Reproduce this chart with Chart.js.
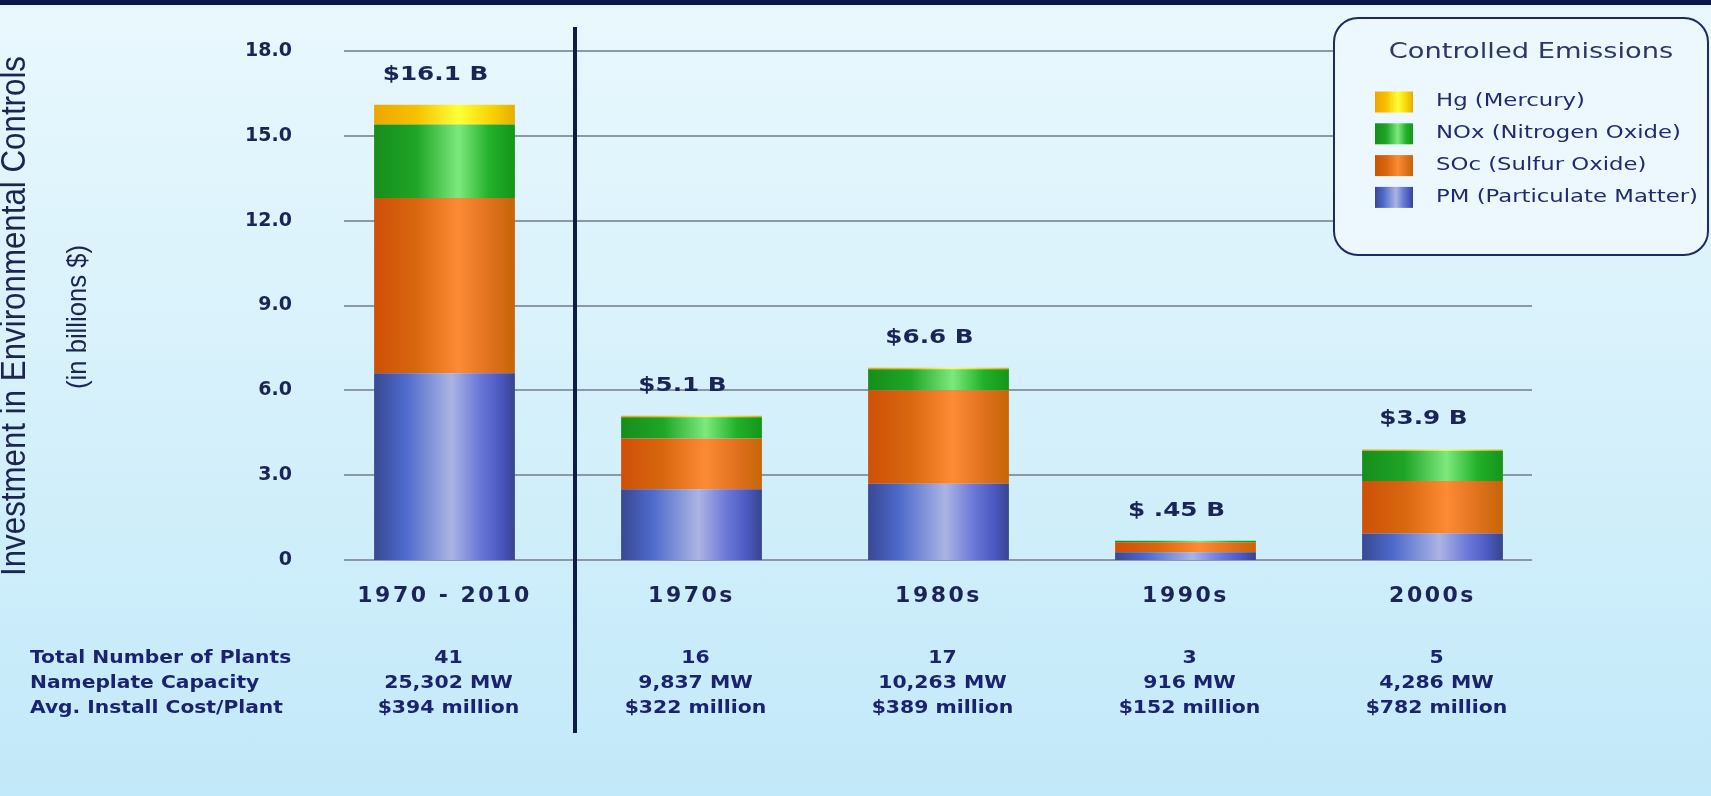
<!DOCTYPE html>
<html>
<head>
<meta charset="utf-8">
<script src="https://cdn.jsdelivr.net/npm/chart.js@4.4.1/dist/chart.umd.min.js"></script>
<style>
  html, body { margin: 0; padding: 0; }
  body {
    width: 1711px; height: 796px; overflow: hidden;
    background: linear-gradient(#e9f8fd, #c2e9f9);
  }
  #wrap { position: relative; width: 1711px; height: 796px; }
  #topband { position: absolute; left: 0; top: 0; width: 1711px; height: 5px; background: #0a174d; }
</style>
</head>
<body>
<div id="wrap">
  <canvas id="myChart" width="1711" height="796"></canvas>
  <div id="topband"></div>
</div>
<script>
// ---- data (billions $) ----
const categories = ['1970 - 2010', '1970s', '1980s', '1990s', '2000s'];
const pm  = [6.6, 2.5, 2.7, 0.27, 0.94];
const soc = [6.2, 1.8, 3.3, 0.36, 1.85];
const nox = [2.6, 0.75, 0.75, 0.05, 1.07];
const hg  = [0.7, 0.05, 0.05, 0, 0.05];
const totals = ['$16.1 B', '$5.1 B', '$6.6 B', '$ .45 B', '$3.9 B'];
const yTicks = [0, 3, 6, 9, 12, 15, 18];

// table under the chart
const rowLabels = ['Total Number of Plants', 'Nameplate Capacity', 'Avg. Install Cost/Plant'];
const plants = [41, 16, 17, 3, 5];
const capacityMW = [25302, 9837, 10263, 916, 4286];
const costMillion = [394, 322, 389, 152, 782];

// cylinder-ish shading for each series
const blueStops   = [[0,'#394893'],[0.22,'#4d6acb'],[0.55,'#abb4e3'],[0.75,'#6b78d8'],[0.9,'#4a58bf'],[1,'#37448c']];
const orangeStops = [[0,'#cf5007'],[0.3,'#d8670f'],[0.6,'#fd8b35'],[0.82,'#e0711e'],[1,'#c66506']];
const greenStops  = [[0,'#178d1b'],[0.3,'#1fa527'],[0.6,'#7de97d'],[0.82,'#22b02a'],[1,'#159519']];
const yellowStops = [[0,'#eea600'],[0.3,'#f8c000'],[0.6,'#ffff38'],[0.85,'#f6d000'],[1,'#e6ae00']];

const BAR_PCT = 0.57;
const NAVY = '#1b2456';

function barFill(stops) {
  return (c) => {
    const xs = c.chart.scales.x;
    if (!xs || c.dataIndex === undefined) return stops[2][1];
    const cx = xs.getPixelForValue(c.dataIndex);
    const w = xs.width / categories.length * BAR_PCT;
    if (!Number.isFinite(cx) || !Number.isFinite(w) || w <= 0) return stops[2][1];
    const g = c.chart.ctx.createLinearGradient(cx - w / 2, 0, cx + w / 2, 0);
    stops.forEach(s => g.addColorStop(s[0], s[1]));
    return g;
  };
}

function wideText(ctx, text, x, y, sx, align) {
  ctx.save();
  ctx.translate(x, y);
  ctx.scale(sx, 1);
  ctx.textAlign = align;
  ctx.fillText(text, 0, 0);
  ctx.restore();
}

// vertical text squeezed/stretched to a given length
function sideText(ctx, text, baseX, cy, len, font) {
  ctx.save();
  ctx.translate(baseX, cy);
  ctx.rotate(-Math.PI / 2);
  ctx.font = font;
  const w = ctx.measureText(text).width;
  ctx.scale(len / w, 1);
  ctx.textAlign = 'center';
  ctx.textBaseline = 'alphabetic';
  ctx.fillText(text, 0, 0);
  ctx.restore();
}

const decor = {
  id: 'decor',
  beforeDraw(chart) {
    chart.ctx.letterSpacing = '2.5px';   // wide look for the category labels
  },
  beforeDatasetsDraw(chart) {
    const ctx = chart.ctx, ys = chart.scales.y, a = chart.chartArea;
    ctx.letterSpacing = '0px';
    ctx.save();
    ctx.strokeStyle = '#8b99a5';
    ctx.lineWidth = 2;
    ys.ticks.forEach(t => {
      const y = Math.round(ys.getPixelForValue(t.value));
      ctx.beginPath();
      ctx.moveTo(a.left + 23, y);
      ctx.lineTo(a.right - 24, y);
      ctx.stroke();
    });
    ctx.restore();
  },
  afterDatasetsDraw(chart) {
    const ctx = chart.ctx, xs = chart.scales.x;
    ctx.letterSpacing = '0px';
    ctx.save();
    // separator between the total and the decades
    const sx = (xs.getPixelForValue(0) + xs.getPixelForValue(1)) / 2 + 7;
    ctx.strokeStyle = '#0e1a48';
    ctx.lineWidth = 4;
    ctx.beginPath();
    ctx.moveTo(sx, 27);
    ctx.lineTo(sx, 733);
    ctx.stroke();

    // totals above the stacks
    const top = chart.getDatasetMeta(chart.data.datasets.length - 1);
    ctx.fillStyle = NAVY;
    ctx.font = 'bold 19px "DejaVu Sans"';
    ctx.textBaseline = 'middle';
    top.data.forEach((bar, i) => {
      wideText(ctx, totals[i], bar.x - 9, bar.y - 30, 1.3, 'center');
    });
    ctx.restore();
  },
  afterDraw(chart) {
    const ctx = chart.ctx, xs = chart.scales.x;
    ctx.save();
    ctx.letterSpacing = '0px';

    // axis titles
    ctx.fillStyle = '#1c2450';
    sideText(ctx, 'Investment in Environmental Controls', 25, 316, 520, '35px "Liberation Sans"');
    sideText(ctx, '(in billions $)', 86, 317, 144, '28px "Liberation Sans"');

    // table
    const rows = [
      plants.map(String),
      capacityMW.map(v => v.toLocaleString('en-US') + ' MW'),
      costMillion.map(v => '$' + v + ' million')
    ];
    const rowY = [659, 684, 709];
    ctx.fillStyle = '#1a2370';
    ctx.font = 'bold 17px "DejaVu Sans"';
    ctx.textBaseline = 'middle';
    rowLabels.forEach((lab, r) => {
      wideText(ctx, lab, 30, rowY[r], 1.19, 'left');
      rows[r].forEach((txt, i) => {
        wideText(ctx, txt, xs.getPixelForValue(i) + 4, rowY[r], 1.2, 'center');
      });
    });

    // legend box
    ctx.beginPath();
    ctx.roundRect(1334, 18, 374, 237, 24);
    ctx.fillStyle = '#ecf8fd';
    ctx.fill();
    ctx.strokeStyle = '#1d2a63';
    ctx.lineWidth = 2;
    ctx.stroke();

    ctx.fillStyle = '#2e3766';
    ctx.font = '22px "DejaVu Sans"';
    wideText(ctx, 'Controlled Emissions', 1531, 52, 1.24, 'center');

    const ds = chart.data.datasets.slice().reverse();
    ds.forEach((d, k) => {
      const y = 102 + k * 31.8;
      const g = ctx.createLinearGradient(1375, 0, 1413, 0);
      d.stops.forEach(s => g.addColorStop(s[0], s[1]));
      ctx.fillStyle = g;
      ctx.fillRect(1375, y - 10.5, 38, 21);
      ctx.fillStyle = '#1f2a70';
      ctx.font = '17px "DejaVu Sans"';
      wideText(ctx, d.label, 1436, y, 1.34, 'left');
    });
    ctx.restore();
  }
};

new Chart(document.getElementById('myChart'), {
  type: 'bar',
  data: {
    labels: categories,
    datasets: [
      { label: 'PM (Particulate Matter)', data: pm,  stops: blueStops,   backgroundColor: barFill(blueStops) },
      { label: 'SOc (Sulfur Oxide)',      data: soc, stops: orangeStops, backgroundColor: barFill(orangeStops) },
      { label: 'NOx (Nitrogen Oxide)',    data: nox, stops: greenStops,  backgroundColor: barFill(greenStops) },
      { label: 'Hg (Mercury)',            data: hg,  stops: yellowStops, backgroundColor: barFill(yellowStops) }
    ]
  },
  options: {
    responsive: false,
    animation: false,
    devicePixelRatio: 1,
    layout: { padding: { top: 51, right: 155, left: 0, bottom: 0 } },
    datasets: { bar: { barPercentage: BAR_PCT, categoryPercentage: 1, borderWidth: 0 } },
    plugins: { legend: { display: false }, tooltip: { enabled: false } },
    scales: {
      x: {
        stacked: true,
        grid: { display: false, drawTicks: false },
        border: { display: false },
        ticks: {
          color: NAVY, padding: 23, autoSkip: false, maxRotation: 0,
          font: { family: 'DejaVu Sans', size: 22, weight: 'bold' }
        },
        afterFit: s => { s.height = 236; }
      },
      y: {
        stacked: true,
        min: 0, max: 18,
        grid: { display: false, drawTicks: false },
        border: { display: false },
        afterBuildTicks: s => { s.ticks = yTicks.map(v => ({ value: v })); },
        ticks: {
          z: 1,
          color: NAVY, padding: 29,
          font: { family: 'DejaVu Sans', size: 19, weight: 'bold' },
          callback: v => v === 0 ? '0' : v.toFixed(1)
        },
        afterFit: s => { s.width = 321; }
      }
    }
  },
  plugins: [decor]
});
</script>
</body>
</html>
